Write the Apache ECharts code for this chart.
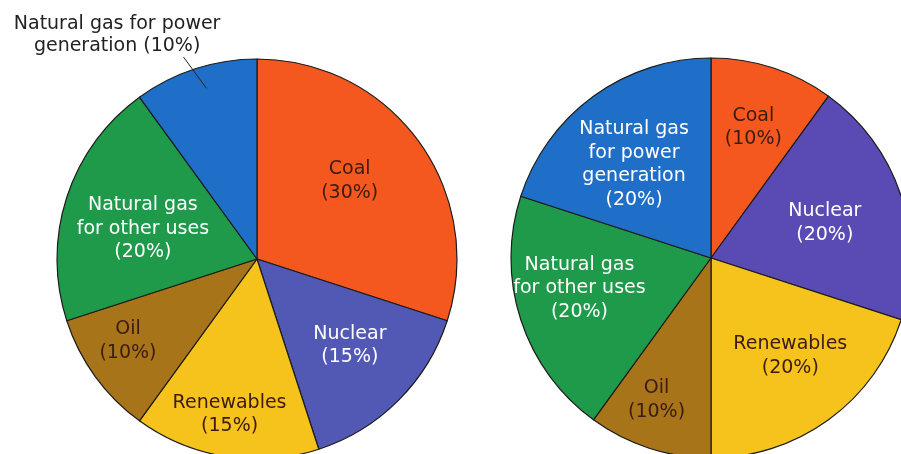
<!DOCTYPE html>
<html>
<head>
<meta charset="utf-8">
<script src="https://cdn.jsdelivr.net/npm/echarts@6/dist/echarts.min.js"></script>
<style>
  html, body { margin: 0; padding: 0; background: #ffffff; }
  #chart { width: 901px; height: 454px; }
</style>
</head>
<body>
<div id="chart"></div>
<script>
// Energy sources as a share of total supply (%), two scenarios
const categories = ['Coal', 'Nuclear', 'Renewables', 'Oil',
  'Natural gas for other uses', 'Natural gas for power generation'];
const sharesLeft = [30, 15, 15, 10, 20, 10];
const sharesRight = [10, 20, 20, 10, 20, 20];

// Wrapped label names for each pie
const labelNamesLeft = ['Coal', 'Nuclear', 'Renewables', 'Oil',
  'Natural gas\nfor other uses', 'Natural gas for power\ngeneration'];
const labelNamesRight = ['Coal', 'Nuclear', 'Renewables', 'Oil',
  'Natural gas\nfor other uses', 'Natural gas\nfor power\ngeneration'];

// ---- styling / layout ----
const FONT = '"DejaVu Sans", "Liberation Sans", Arial, sans-serif';
const RADIUS = 200;
const centers = [[257, 259], [711, 258]];
const sliceColorsLeft = ['#f5581f', '#5159b4', '#f6c21c', '#a8741a', '#1f9a4a', '#1f6fc8'];
const sliceColorsRight = ['#f5581f', '#5a4ab3', '#f6c21c', '#a8741a', '#1f9a4a', '#1f6fc8'];
const labelInk = ['#3a1c12', '#ffffff', '#3a1c12', '#3a1c12', '#ffffff', '#ffffff'];
// inside labels: distance from the centre (fraction of radius) and a small turn off the bisector (deg)
const labelRadiusLeft = [0.605, 0.635, 0.79, 0.765, 0.59, 0];
const labelTurnLeft = [-4, -2, 1, 3.5, -3.3, 0];
const labelRadiusRight = [0.685, 0.595, 0.63, 0.76, 0.675, 0.605];
const labelTurnRight = [0, 1, -3, 3, 5, -3.5];
// slices whose label sits outside the pie, with a leader line
const outsideLeft = [false, false, false, false, false, true];

const DEG = Math.PI / 180;
function midAngle(shares, i) {
  const total = shares.reduce((a, b) => a + b, 0);
  let before = 0;
  for (let k = 0; k < i; k++) before += shares[k];
  return (before + shares[i] / 2) / total * Math.PI * 2; // clockwise from 12 o'clock
}
function polar(center, ang, r) {
  return [center[0] + r * Math.sin(ang), center[1] - r * Math.cos(ang)];
}

const pieBase = (center) => ({
  type: 'pie',
  center: center,
  radius: [0, RADIUS],
  startAngle: 90,
  clockwise: true,
  avoidLabelOverlap: false,
  silent: true,
  emphasis: { disabled: true }
});

// Filled pie with the labels that sit inside the slices
function buildPie(shares, names, colors, labelRadius, labelTurn, center, outside) {
  const data = categories.map((c, i) => ({
    name: c,
    value: shares[i],
    itemStyle: { color: colors[i] },
    label: {
      show: !(outside && outside[i]),
      color: labelInk[i],
      formatter: names[i] + '\n(' + shares[i] + '%)'
    }
  }));
  return Object.assign(pieBase(center), {
    z: 2,
    itemStyle: { borderColor: '#1c1c1c', borderWidth: 1.2 },
    label: {
      position: 'inside',
      fontFamily: FONT,
      fontSize: 19,
      lineHeight: 23.5,
      align: 'center',
      verticalAlign: 'middle'
    },
    labelLine: { show: false },
    labelLayout: function (p) {
      const i = p.dataIndex;
      const pos = polar(center, midAngle(shares, i) + labelTurn[i] * DEG, RADIUS * labelRadius[i]);
      return { x: pos[0], y: pos[1], align: 'center', verticalAlign: 'middle' };
    },
    data: data
  });
}

// Transparent copy drawn above, carrying the outside labels and their leader lines
function buildCallouts(shares, names, center, outside) {
  const data = categories.map((c, i) => ({
    name: c,
    value: shares[i],
    label: { show: !!outside[i] },
    labelLine: { show: !!outside[i] }
  }));
  return Object.assign(pieBase(center), {
    z: 5,
    itemStyle: { color: 'rgba(0,0,0,0)', borderWidth: 0 },
    label: {
      position: 'outside',
      fontFamily: FONT,
      fontSize: 19,
      lineHeight: 22,
      color: '#222222',
      align: 'center',
      formatter: (p) => names[p.dataIndex] + ' (' + shares[p.dataIndex] + '%)'
    },
    labelLine: { showAbove: true, lineStyle: { color: '#222222', width: 1 } },
    labelLayout: function (p) {
      const i = p.dataIndex;
      const ang = midAngle(shares, i);
      const pos = polar(center, ang - 14 * DEG, RADIUS * 1.32);
      const a = polar(center, ang + 1.5 * DEG, RADIUS * 0.89);
      const b = polar(center, ang - 2 * DEG, RADIUS * 1.075);
      return {
        x: pos[0], y: pos[1], align: 'center', verticalAlign: 'middle',
        labelLinePoints: [a, b, b]
      };
    },
    data: data
  });
}

const chart = echarts.init(document.getElementById('chart'), null, { renderer: 'canvas' });
chart.setOption({
  backgroundColor: '#ffffff',
  animation: false,
  series: [
    buildPie(sharesLeft, labelNamesLeft, sliceColorsLeft, labelRadiusLeft, labelTurnLeft, centers[0], outsideLeft),
    buildPie(sharesRight, labelNamesRight, sliceColorsRight, labelRadiusRight, labelTurnRight, centers[1], null),
    buildCallouts(sharesLeft, labelNamesLeft, centers[0], outsideLeft)
  ]
});
</script>
</body>
</html>
